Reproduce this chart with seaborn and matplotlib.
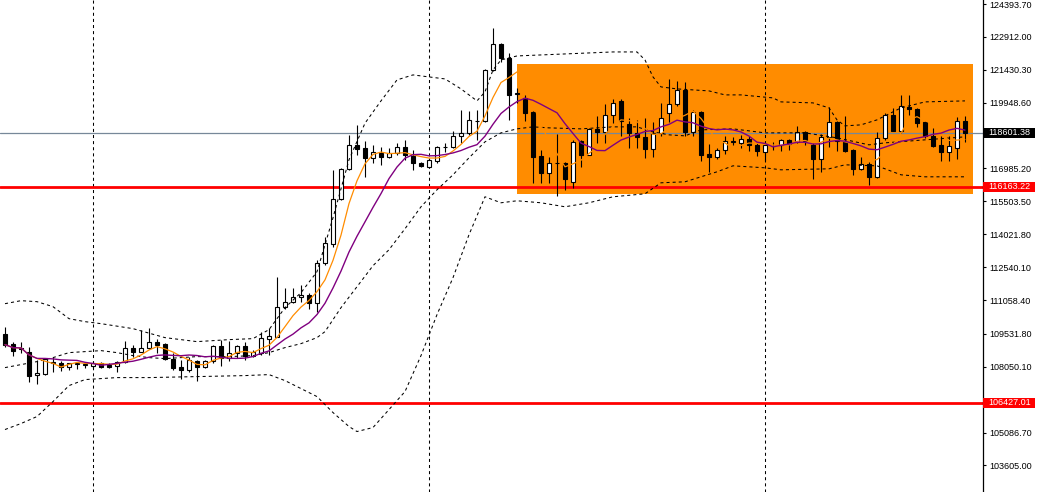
import numpy as np
import pandas as pd
import matplotlib
matplotlib.use("Agg")
import matplotlib.pyplot as plt
import seaborn as sns
from matplotlib.patches import Rectangle
from matplotlib.transforms import blended_transform_factory

# ---------------- data ----------------
opens = [109544, 109094, 108914, 108734, 107699, 107744, 108239, 108239, 108059, 108194,
         108149, 108104, 108239, 108149, 108104, 108284, 108914, 108734, 108914, 109184,
         109094, 108419, 108059, 107924, 108329, 108059, 108329, 109004, 108464, 108689,
         109004, 108554, 108689, 109319, 109409, 110759, 110984, 111209, 111299, 110939,
         112739, 113594, 115619, 116969, 118049, 117914, 117464, 117689, 117509, 117689,
         117959, 117554, 117239, 117059, 117329, 117959, 117959, 118454, 118589, 119129,
         119129, 121424, 122594, 121964, 120344, 120164, 119534, 117554, 116789, 117239,
         117239, 116384, 118229, 117599, 118769, 118634, 119399, 120029, 118994, 118589,
         118409, 117869, 118589, 119489, 119894, 120524, 118634, 119534, 117644, 117509,
         117824, 118184, 118139, 118319, 118049, 117734, 118004, 118049, 118274, 118184,
         118634, 118049, 117419, 118409, 119084, 118184, 117824, 116969, 117194, 116609,
         118364, 119399, 118679, 119759, 119669, 119084, 118454, 118049, 117734, 117914,
         119129]
highs = [109859, 109184, 109184, 108959, 108374, 108464, 108509, 108329, 108239, 108284,
         108284, 108329, 108284, 108239, 108329, 109229, 109049, 109724, 109814, 109319,
         109139, 108689, 108374, 108509, 108374, 108374, 109049, 109274, 109229, 109049,
         109184, 108824, 109634, 109814, 112109, 111614, 111614, 111749, 111389, 112874,
         113909, 116924, 117014, 118499, 118949, 118229, 118049, 117959, 117914, 118139,
         118274, 117824, 117284, 117464, 118004, 118139, 118679, 119624, 119579, 119624,
         121469, 123314, 122639, 122189, 120614, 120299, 119579, 117824, 117509, 118544,
         117284, 118274, 118274, 118814, 119354, 119894, 120119, 120119, 119264, 119174,
         119264, 119084, 119939, 121019, 120929, 120884, 119624, 119579, 118094, 117914,
         118454, 118409, 118499, 118454, 118139, 118049, 118184, 118319, 118319, 118904,
         118679, 118139, 118544, 119759, 119129, 119354, 117869, 117509, 117284, 118634,
         119489, 119714, 120299, 120299, 119714, 119129, 118814, 118454, 118454, 119309,
         119354]
lows = [108959, 108554, 108689, 107384, 107294, 107699, 107834, 107879, 107924, 107969,
        108014, 108014, 108014, 108014, 107834, 108239, 108509, 108720, 108869, 108689,
        108374, 107924, 107519, 107834, 107429, 108014, 108239, 108104, 108329, 108464,
        108374, 108509, 108599, 108599, 109400, 110669, 110939, 110984, 110669, 110534,
        112649, 113459, 115574, 116924, 117599, 116609, 117239, 117149, 117464, 117599,
        117374, 116924, 117059, 117014, 117239, 117734, 117914, 118139, 118499, 118274,
        119084, 121379, 121784, 119174, 119939, 119129, 116339, 116339, 116339, 115754,
        116024, 116114, 117059, 117580, 118139, 118139, 119039, 118454, 117914, 117914,
        117464, 117509, 118454, 119084, 119804, 118454, 118454, 117329, 116834, 117419,
        117644, 118049, 117914, 117779, 117554, 117329, 117824, 117779, 117824, 118139,
        118049, 116519, 116834, 117959, 117779, 117734, 116699, 116924, 116249, 116564,
        118274, 118670, 118589, 119399, 118859, 118364, 117959, 117329, 117329, 117419,
        118184]
closes = [109049, 108779, 108869, 107654, 107789, 108419, 108284, 108059, 108239, 108239,
          108194, 108239, 108059, 108059, 108284, 108914, 108734, 108914, 109184, 109049,
          108419, 108014, 107924, 108374, 108059, 108329, 109004, 108464, 108689, 109004,
          108554, 108734, 109364, 109454, 110759, 110984, 111209, 111299, 110939, 112739,
          113639, 115619, 116969, 118049, 117869, 117464, 117734, 117509, 117689, 117959,
          117599, 117239, 117104, 117374, 117959, 117959, 118454, 118589, 119174, 119129,
          121424, 122594, 121964, 120299, 120389, 119489, 117509, 116789, 117239, 117239,
          116519, 118184, 117599, 118769, 118634, 119399, 119939, 119129, 118589, 118409,
          117869, 118589, 119264, 119894, 120524, 118634, 119534, 117599, 117509, 117824,
          118229, 118229, 118319, 118049, 117779, 118049, 118004, 118274, 118094, 118634,
          118229, 117419, 118409, 119084, 118229, 117779, 116969, 117194, 116609, 118364,
          119399, 118679, 119804, 119669, 119039, 118454, 118004, 117734, 118004, 119129,
          118601.38]

# Bollinger band lines (bar index -> price)
upper_idx = [0, 2, 4, 6, 8, 10, 12, 16, 20, 24, 28, 31, 33, 35, 37, 39, 41, 43, 45, 47,
             49, 51, 53, 55, 57, 59, 60, 61, 62, 64, 70, 76, 79, 80, 81, 82, 84, 88, 90, 92,
             96, 97, 101, 103, 104, 105, 107, 109, 111, 112, 115, 120]
upper_vals = [110894, 111029, 110984, 110759, 110219, 110084, 109994, 109769, 109364, 109184,
              109274, 109319, 109724, 110714, 111389, 112334, 114764, 117374, 119024, 120029,
              120974, 121199, 121109, 121019, 120569, 120029, 120434, 121424, 121874, 122054,
              122144, 122234, 122234, 121874, 121109, 120659, 120569, 120479, 120299, 120299,
              120164, 119984, 119939, 119714, 119174, 118904, 118949, 119174, 119534, 119714,
              119984, 120029]
middle_idx = [0, 2, 4, 6, 8, 10, 12, 14, 16, 18, 20, 24, 28, 31, 33, 35, 37, 39, 40, 42,
              44, 46, 48, 50, 52, 54, 56, 58, 60, 62, 64, 66, 68, 72, 76, 79, 81, 83, 85, 87,
              91, 95, 100, 104, 108, 110, 115, 120]
middle_vals = [108014, 108149, 108284, 108464, 108689, 108734, 108779, 108689, 108554, 108464,
               108419, 108509, 108509, 108554, 108689, 108914, 109094, 109364, 109634, 110714,
               111659, 112604, 113324, 114269, 115259, 116024, 116699, 117464, 118184, 118589,
               118769, 118859, 118814, 118769, 118859, 118859, 118634, 118499, 118454, 118724,
               118769, 118589, 118589, 118364, 118049, 118139, 118274, 118409]
lower_idx = [0, 2, 4, 6, 8, 10, 14, 18, 24, 30, 33, 35, 37, 39, 41, 43, 44, 46, 48, 50,
             52, 54, 56, 58, 60, 62, 64, 67, 70, 73, 76, 80, 82, 85, 89, 91, 95, 97, 103, 105,
             109, 112, 115, 120]
lower_vals = [105224, 105494, 105809, 106484, 107204, 107474, 107564, 107564, 107609, 107654,
              107699, 107429, 107069, 106709, 105989, 105359, 105134, 105314, 106124, 106934,
              108554, 110399, 112064, 113999, 115709, 115439, 115529, 115439, 115259, 115439,
              115709, 115844, 116339, 116384, 116834, 117104, 117014, 116924, 116969, 117149,
              117104, 116699, 116609, 116609]

red_levels = [116163.22, 106427.01]
last_price = 118601.38
grid_bars = [11, 53, 95]
zone_bars = [64, 121]
zone_prices = [115820, 121700]
tick_values = [124393.70, 122912.00, 121430.30, 119948.60, 116985.20, 115503.50,
               114021.80, 112540.10, 111058.40, 109531.80, 108050.10, 105086.70, 103605.00]

# ---------------- style ----------------
sns.set_theme(style="white")
plt.rcParams["font.family"] = ["Liberation Sans", "DejaVu Sans"]
plt.rcParams["lines.scale_dashes"] = False

W, H = 1038, 492
fig = plt.figure(figsize=(W / 100, H / 100), dpi=100)
fig.patch.set_facecolor("white")
ax = fig.add_axes([0, 0, 982.5 / W, 1])
ax.set_facecolor("white")

df = pd.DataFrame({"bar": np.arange(len(closes)), "open": opens, "high": highs,
                   "low": lows, "close": closes})
df["ma_fast"] = df["close"].rolling(5, min_periods=1).mean()
df["ma_slow"] = df["close"].rolling(10, min_periods=1).mean()

DOT = (0, (2.2, 2.2))

# orange zone
ax.add_patch(Rectangle((zone_bars[0], zone_prices[0]), zone_bars[1] - zone_bars[0],
                       zone_prices[1] - zone_prices[0], facecolor="#FF8C00",
                       edgecolor="none", zorder=0.5))

# vertical grid
for b in grid_bars:
    ax.axvline(b, color="black", lw=0.75, linestyle=DOT, zorder=1)

# horizontal levels
for lv in red_levels:
    ax.axhline(lv, color="#FF0000", lw=2.0, zorder=2)
ax.axhline(last_price, color="#778899", lw=0.9, zorder=2)

# candles
up = df["close"] >= df["open"]
body_lo = np.minimum(df["open"], df["close"])
body_h = (df["close"] - df["open"]).abs()
ax.vlines(df["bar"], df["low"], df["high"], color="black", lw=0.8, zorder=3)
ax.bar(df["bar"], body_h, bottom=body_lo, width=0.55,
       color=np.where(up, "white", "black"), edgecolor="black", linewidth=0.8, zorder=3.5)

# Bollinger bands
for idx, vals in [(upper_idx, upper_vals), (middle_idx, middle_vals), (lower_idx, lower_vals)]:
    sns.lineplot(x=idx, y=vals, ax=ax, color="black", linewidth=0.75, zorder=4,
                 estimator=None, sort=False)
    ax.lines[-1].set_linestyle(DOT)

# moving averages
sns.lineplot(data=df, x="bar", y="ma_fast", ax=ax, color="#FF8C00", linewidth=0.9, zorder=5)
sns.lineplot(data=df, x="bar", y="ma_slow", ax=ax, color="#800080", linewidth=1.0, zorder=5)

# axes
ax.set_xlim(-0.625, 122.19)
ax.set_ylim(102410, 124574)
ax.set_xlabel("")
ax.set_ylabel("")
ax.set_xticks([])
ax.yaxis.tick_right()
ax.set_yticks(tick_values)
ax.set_yticklabels([f"{v:.2f}" for v in tick_values])
ax.tick_params(axis="y", direction="out", length=2.5, width=0.8, pad=2.5,
               labelsize=6.5, colors="black", right=True, left=False,
               labelright=True, labelleft=False)
ax.grid(False)
for s in ["left", "top", "bottom"]:
    ax.spines[s].set_visible(False)
ax.spines["right"].set_color("black")
ax.spines["right"].set_linewidth(0.9)

# price boxes on the axis
trans = blended_transform_factory(ax.transAxes, ax.transData)
box_half = 225
for val, fc in [(last_price, "black"), (red_levels[0], "#FF0000"), (red_levels[1], "#FF0000")]:
    ax.add_patch(Rectangle((1.0, val - box_half), 52 / 982.5, 2 * box_half, transform=trans,
                           facecolor=fc, edgecolor="none", clip_on=False, zorder=6))
    ax.text(1.0 + 5.5 / 982.5, val, f"{val:.2f}", transform=trans, color="white",
            fontsize=6.5, va="center", ha="left", clip_on=False, zorder=7)

fig.savefig("out.png", dpi=100, facecolor="white")
